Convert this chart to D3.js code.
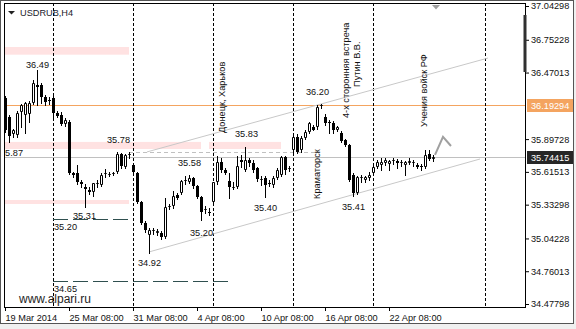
<!DOCTYPE html>
<html>
<head>
<meta charset="utf-8">
<script src="https://cdn.jsdelivr.net/npm/d3@7"></script>
<style>
  html, body { margin: 0; padding: 0; background: #f0f0f0; }
  svg { display: block; font-family: "Liberation Sans", Arial, sans-serif; }
</style>
</head>
<body>
<svg id="chart" width="576" height="329"></svg>
<script>
// USDRUB, H4 - bar 0 is 19 Mar 2014 08:00, four bars per trading day
const barOpen = [
  36.251,36.088,35.942,35.933,36.131,36.105,36.114,36.208,36.363,36.363,
  36.260,36.234,36.251,36.122,36.105,36.028,36.045,35.606,35.606,35.528,
  35.485,35.460,35.442,35.511,35.503,35.597,35.589,35.597,35.614,35.770,
  35.657,35.761,35.675,35.606,35.356,35.175,35.072,35.106,35.089,35.089,
  35.055,35.313,35.322,35.416,35.434,35.537,35.528,35.563,35.494,35.399,
  35.287,35.270,35.356,35.528,35.701,35.632,35.537,35.477,35.485,35.718,
  35.632,35.718,35.692,35.649,35.546,35.563,35.520,35.503,35.563,35.589,
  35.743,35.640,35.804,35.916,35.804,35.907,35.959,36.002,36.002,36.183,
  36.088,36.045,36.036,35.976,35.950,35.890,35.847,35.589,35.434,35.563,
  35.546,35.563,35.606,35.657,35.675,35.692,35.684,35.709,35.709,35.692,
  35.675,35.692,35.692,35.675,35.666,35.657,35.770,35.726]
const barHigh = [
  36.268,36.105,35.985,36.139,36.200,36.217,36.225,36.406,36.492,36.380,
  36.277,36.260,36.268,36.139,36.131,36.079,36.062,35.614,35.675,35.546,
  35.511,35.485,35.520,35.546,35.606,35.640,35.614,35.614,35.787,35.778,
  35.770,35.787,35.692,35.614,35.365,35.192,35.132,35.132,35.123,35.106,
  35.391,35.339,35.451,35.434,35.546,35.580,35.589,35.571,35.503,35.408,
  35.322,35.304,35.528,35.752,35.735,35.649,35.606,35.528,35.752,35.761,
  35.830,35.735,35.718,35.657,35.580,35.580,35.546,35.580,35.649,35.752,
  35.752,35.666,35.950,35.942,35.924,35.976,36.045,36.019,36.191,36.200,
  36.114,36.062,36.054,36.011,35.967,35.899,35.856,35.606,35.580,35.589,
  35.580,35.614,35.666,35.718,35.735,35.735,35.718,35.735,35.726,35.718,
  35.709,35.735,35.718,35.692,35.684,35.804,35.804,35.761]
const barLow = [
  35.959,35.873,35.916,35.916,36.002,35.950,36.045,36.200,36.191,36.208,
  36.191,36.200,36.062,36.088,36.019,36.011,35.597,35.571,35.511,35.485,
  35.313,35.425,35.408,35.485,35.494,35.571,35.580,35.589,35.606,35.649,
  35.649,35.735,35.606,35.347,35.167,35.098,34.917,35.080,35.072,35.037,
  35.046,35.296,35.304,35.382,35.425,35.511,35.520,35.477,35.391,35.201,
  35.261,35.244,35.330,35.511,35.614,35.597,35.391,35.468,35.477,35.657,
  35.623,35.666,35.614,35.537,35.503,35.399,35.494,35.485,35.554,35.580,
  35.597,35.623,35.787,35.778,35.787,35.899,35.950,35.976,35.985,36.165,
  36.019,35.950,35.950,35.967,35.873,35.838,35.537,35.408,35.425,35.528,
  35.528,35.546,35.597,35.649,35.632,35.675,35.632,35.684,35.649,35.666,
  35.589,35.684,35.666,35.649,35.632,35.649,35.718,35.709]
const barClose = [
  35.976,35.924,35.976,36.122,36.191,36.208,36.208,36.380,36.346,36.260,
  36.217,36.225,36.122,36.096,36.028,36.062,35.606,35.589,35.528,35.511,
  35.468,35.442,35.520,35.520,35.589,35.606,35.597,35.606,35.770,35.666,
  35.761,35.770,35.614,35.356,35.175,35.115,35.115,35.115,35.106,35.055,
  35.313,35.322,35.408,35.391,35.537,35.546,35.563,35.494,35.399,35.270,
  35.296,35.261,35.528,35.701,35.632,35.606,35.485,35.485,35.666,35.701,
  35.718,35.692,35.632,35.554,35.554,35.503,35.511,35.563,35.632,35.743,
  35.632,35.649,35.916,35.787,35.907,35.959,36.036,35.976,36.174,36.191,
  36.036,36.036,35.976,36.002,35.881,35.847,35.546,35.434,35.571,35.571,
  35.571,35.589,35.657,35.701,35.701,35.718,35.709,35.718,35.692,35.701,
  35.701,35.709,35.701,35.657,35.657,35.761,35.726,35.744]

const tickBars = [0, 16, 32, 48, 64, 80, 96]
const tickLabels = ["19 Mar 2014", "25 Mar 08:00", "31 Mar 08:00", "4 Apr 08:00",
                    "10 Apr 08:00", "16 Apr 08:00", "22 Apr 08:00"]
const weekBars = [12, 32, 52, 72, 92, 120]   // period separators (Mondays)
const priceTicks = [37.04298, 36.75228, 36.47013, 35.89728, 35.61513,
                    35.33298, 35.04228, 34.76013, 34.47798]
const bidPrice = 35.74415
const levelPrice = 36.19294

// analyst objects: [fromBar, toBar, topPrice, bottomPrice]
const zones = [[-1, 31, 36.690, 36.624], [-1, 49, 35.873, 35.812],
               [51, 69, 35.873, 35.812], [-1, 31, 35.373, 35.339]]
// channel: [bar1, price1, bar2, price2]
const trends = [[35.5, 35.787, 120.75, 36.595], [36, 34.926, 118.75, 35.726]]
const resistDash = [31, 78, 35.787]
// support levels: [fromBar, toBar, price]
const supports = [[12, 32, 35.210], [12, 57, 34.679]]
const projBars = [107.5, 109.5, 111.5]
const projPrices = [35.761, 35.916, 35.838]
// price notes: [text, bar, price, anchor]
const priceNotes = [
  ["36.49", 5.25, 36.535, "start"], ["35.87", 4.5, 35.778, "end"],
  ["35.78", 25.5, 35.890, "start"], ["35.58", 43.25, 35.696, "start"],
  ["35.83", 57.5, 35.939, "start"], ["35.40", 62.25, 35.309, "start"],
  ["35.41", 84.25, 35.316, "start"], ["36.20", 75.25, 36.305, "start"],
  ["35.31", 17, 35.236, "start"], ["35.20", 12.25, 35.139, "start"],
  ["34.92", 33.25, 34.829, "start"], ["35.20", 46.25, 35.092, "start"],
  ["34.65", 12.25, 34.605, "start"]]
// news, written bottom to top: [text, bar, price at text start]
const eventNotes = [
  ["Донецк, Харьков", 54.25, 35.950], ["4-х сторонняя встреча", 85.2, 36.079],
  ["Путин В.В.", 87.9, 36.346], ["Краматорск", 77.9, 35.382],
  ["Учения войск РФ", 104.75, 36.002]]

const plot = {left: 4, top: 3, right: 525, bottom: 307}
const fs = 9.2

const svg = d3.select('#chart')
const x = d3.scaleLinear().domain([0, 120]).range([5, 485])
const y = d3.scaleLinear().domain([34.47798, 37.04298]).range([304, 6])
const px = v => Math.round(v) + 0.5

svg.append('rect').attr('width', 574).attr('height', 324).attr('fill', '#fff')

svg.append('defs').append('clipPath').attr('id', 'plotClip').append('rect')
  .attr('x', plot.left + 1).attr('y', plot.top + 1)
  .attr('width', plot.right - plot.left - 1).attr('height', plot.bottom - plot.top - 1)

const g = svg.append('g').attr('clip-path', 'url(#plotClip)')

g.selectAll('.zone').data(zones).join('rect')
  .attr('class', 'zone')
  .attr('x', d => x(d[0])).attr('width', d => x(d[1]) - x(d[0]))
  .attr('y', d => y(d[2])).attr('height', d => y(d[3]) - y(d[2]))
  .attr('fill', '#ffe2e2')

// level line and bid line
g.append('line').attr('x1', plot.left).attr('x2', plot.right)
  .attr('y1', px(y(levelPrice))).attr('y2', px(y(levelPrice)))
  .attr('stroke', '#f4a460')
g.append('line').attr('x1', plot.left).attr('x2', plot.right)
  .attr('y1', px(y(bidPrice))).attr('y2', px(y(bidPrice)))
  .attr('stroke', '#c0c0c0')

g.selectAll('.sep').data(weekBars).join('line')
  .attr('class', 'sep')
  .attr('x1', d => px(x(d))).attr('x2', d => px(x(d)))
  .attr('y1', plot.top).attr('y2', plot.bottom)
  .attr('stroke', '#000').attr('stroke-dasharray', '3,2')

g.selectAll('.trend').data(trends).join('line')
  .attr('class', 'trend')
  .attr('x1', d => x(d[0])).attr('y1', d => y(d[1]))
  .attr('x2', d => x(d[2])).attr('y2', d => y(d[3]))
  .attr('stroke', '#c8c8c8')

g.append('line')
  .attr('x1', x(resistDash[0])).attr('x2', x(resistDash[1]))
  .attr('y1', px(y(resistDash[2]))).attr('y2', px(y(resistDash[2])))
  .attr('stroke', '#c0c0c0').attr('stroke-dasharray', '4,3')

g.selectAll('.support').data(supports).join('line')
  .attr('class', 'support')
  .attr('x1', d => x(d[0])).attr('x2', d => x(d[1]))
  .attr('y1', d => px(y(d[2]))).attr('y2', d => px(y(d[2])))
  .attr('stroke', '#2f4f4f').attr('stroke-dasharray', '15,5')

// candles
const bars = barOpen.map((o, i) => ({i, o, h: barHigh[i], l: barLow[i], c: barClose[i]}))
const candle = g.selectAll('.bar').data(bars).join('g').attr('class', 'bar')

candle.append('line')
  .attr('x1', d => px(x(d.i))).attr('x2', d => px(x(d.i)))
  .attr('y1', d => Math.round(y(d.h))).attr('y2', d => Math.round(y(d.l)) + 1)
  .attr('stroke', '#000')

candle.filter(d => d.c < d.o).append('rect')
  .attr('x', d => Math.round(x(d.i)) - 1).attr('width', 3)
  .attr('y', d => Math.round(y(d.o)))
  .attr('height', d => Math.max(1, Math.round(y(d.c)) - Math.round(y(d.o))))
  .attr('fill', '#000')

candle.filter(d => d.c >= d.o).append('path')
  .attr('d', d => {
    const cx = Math.round(x(d.i))
    const t = Math.round(y(d.c)) + 0.5
    const b = Math.max(t, Math.round(y(d.o)) - 0.5)
    return `M${cx - 0.5},${t}H${cx + 1.5}V${b}H${cx - 0.5}Z`
  })
  .attr('fill', '#fff').attr('stroke', '#000')

g.append('path')
  .attr('d', d3.line()(projBars.map((b, k) => [x(b), y(projPrices[k])])))
  .attr('fill', 'none').attr('stroke', '#a0a0a0').attr('stroke-width', 2)

g.selectAll('.pnote').data(priceNotes).join('text')
  .attr('class', 'pnote')
  .attr('x', d => x(d[1])).attr('y', d => y(d[2])).attr('dy', '0.35em')
  .attr('text-anchor', d => d[3])
  .attr('font-size', fs).attr('fill', '#111')
  .text(d => d[0])

g.selectAll('.enote').data(eventNotes).join('text')
  .attr('class', 'enote')
  .attr('transform', d => `translate(${x(d[1])},${y(d[2])}) rotate(-90)`)
  .attr('dy', '0.35em').attr('font-size', fs).attr('fill', '#111')
  .text(d => d[0])

// title and markers
svg.append('path').attr('d', 'M8,11H15L11.5,14.5Z').attr('fill', '#222')
svg.append('text').attr('x', 20).attr('y', 12.7).attr('dy', '0.35em')
  .attr('font-size', fs).attr('fill', '#1a1a2a').text('USDRUB,H4')
svg.append('path').attr('d', 'M432,5H440L436,9.5Z').attr('fill', '#a0a0a0')
svg.append('text').attr('x', 19).attr('y', 298.3).attr('dy', '0.35em')
  .attr('font-size', 12).attr('fill', '#1e1e1e').text('www.alpari.ru')

// axes
svg.append('g')
  .attr('transform', `translate(0,${plot.bottom})`)
  .call(d3.axisBottom(x).tickValues(tickBars).tickFormat((d, i) => tickLabels[i])
    .tickSize(4).tickSizeOuter(0))
  .call(a => a.select('.domain').remove())
  .attr('font-size', fs).attr('font-family', null)
  .call(a => a.selectAll('text').attr('text-anchor', 'start')
    .attr('x', 0).attr('y', 10.3).attr('dy', '0.35em').attr('fill', '#111'))

svg.append('g')
  .attr('transform', `translate(${plot.right},0)`)
  .call(d3.axisRight(y).tickValues(priceTicks).tickFormat(d3.format('.5f'))
    .tickSize(4).tickPadding(2).tickSizeOuter(0))
  .call(a => a.select('.domain').remove())
  .attr('font-size', fs).attr('font-family', null)
  .call(a => a.selectAll('text').attr('fill', '#111'))

// frame
svg.append('rect').attr('x', 0.5).attr('y', 0.5).attr('width', 573).attr('height', 323)
  .attr('fill', 'none').attr('stroke', '#555')
const frame = [[plot.left + 0.5, plot.top, plot.left + 0.5, plot.bottom + 1],
               [plot.left, plot.top + 0.5, plot.right + 1, plot.top + 0.5],
               [plot.right + 0.5, plot.top, plot.right + 0.5, plot.bottom + 1],
               [plot.left, plot.bottom + 0.5, plot.right + 1, plot.bottom + 0.5]]
svg.selectAll('.frame').data(frame).join('line')
  .attr('class', 'frame')
  .attr('x1', d => d[0]).attr('y1', d => d[1]).attr('x2', d => d[2]).attr('y2', d => d[3])
  .attr('stroke', '#000')

svg.append('rect').attr('x', plot.right - 1.5).attr('y', 15).attr('width', 3).attr('height', 57)
  .attr('fill', '#303030')

// price boxes
const boxes = [[levelPrice, '#f4a460'], [bidPrice, '#262626']]
svg.selectAll('.pbox').data(boxes).join('rect')
  .attr('class', 'pbox')
  .attr('x', plot.right + 2).attr('width', 46)
  .attr('y', d => Math.round(y(d[0])) - 6).attr('height', 13)
  .attr('fill', d => d[1])
svg.selectAll('.ptext').data(boxes).join('text')
  .attr('class', 'ptext')
  .attr('x', plot.right + 6).attr('y', d => Math.round(y(d[0])) + 0.5).attr('dy', '0.35em')
  .attr('font-size', fs).attr('fill', '#fff')
  .text(d => d3.format('.5f')(d[0]))
</script>
</body>
</html>
